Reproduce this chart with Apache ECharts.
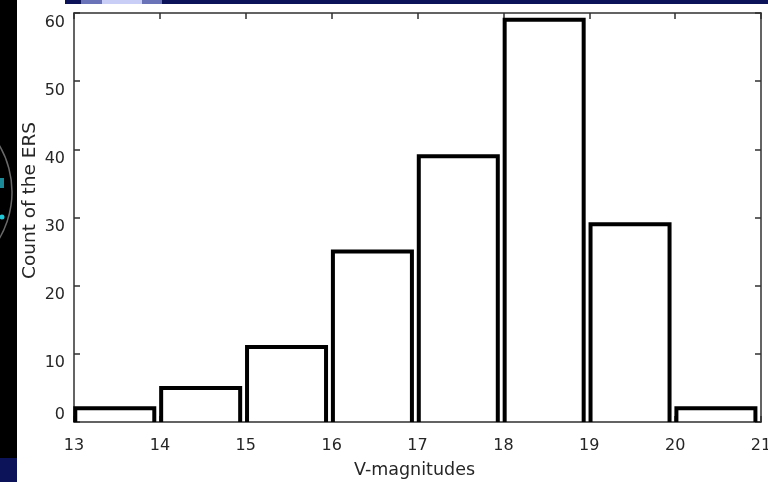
<!DOCTYPE html>
<html>
<head>
<meta charset="utf-8">
<script src="https://cdn.jsdelivr.net/npm/echarts@6/dist/echarts.min.js"></script>
<style>
  html, body { margin: 0; padding: 0; background: #000; }
  #chart { width: 768px; height: 482px; }
</style>
</head>
<body>
<div id="chart"></div>
<script>
// Histogram of V-magnitudes: one bin per magnitude, left edges below
const binStarts = [13, 14, 15, 16, 17, 18, 19, 20];
const counts = [2, 5, 11, 25, 39, 59, 29, 2];
const xTicks = [13, 14, 15, 16, 17, 18, 19, 20, 21];
const yTicks = [0, 10, 20, 30, 40, 50, 60];

const FONT = 'DejaVu Sans';
const TEXT = '#262626';
const AXIS = '#303030';

const chart = echarts.init(document.getElementById('chart'), null, { renderer: 'canvas' });

const barData = binStarts.map((s, i) => [s, counts[i]]);

// Box-style axes: labelled bottom/left, bare top/right, ticks pointing inward
const boxAxis = (extra) => Object.assign({
  axisLine: { show: true, onZero: false, lineStyle: { color: AXIS, width: 1.5 } },
  axisTick: { show: true, inside: true, length: 6, lineStyle: { color: AXIS, width: 1.5 } },
  splitLine: { show: false }
}, extra);

const labelText = { fontFamily: FONT, fontSize: 16, color: TEXT };

chart.setOption({
  backgroundColor: '#ffffff',
  animation: false,
  grid: { left: 74, right: 7, top: 13, bottom: 60, outerBoundsMode: 'none', containLabel: false },
  xAxis: [
    boxAxis({
      type: 'value', min: xTicks[0], max: xTicks[xTicks.length - 1], interval: 1,
      name: 'V-magnitudes', nameLocation: 'middle', nameGap: 39, nameMoveOverlap: false,
      nameTextStyle: { fontFamily: FONT, fontSize: 17.5, color: TEXT, padding: [0, 6, 0, 0] },
      axisLabel: Object.assign({ margin: 16, showMinLabel: true, showMaxLabel: true }, labelText)
    }),
    boxAxis({
      type: 'value', position: 'top', min: xTicks[0], max: xTicks[xTicks.length - 1], interval: 1,
      axisLabel: { show: false }
    })
  ],
  yAxis: [
    boxAxis({
      type: 'value', min: yTicks[0], max: yTicks[yTicks.length - 1], interval: 10,
      name: 'Count of the ERS', nameLocation: 'middle', nameGap: 34, nameMoveOverlap: false,
      // left padding nudges the rotated title a little above the axis centre
      nameTextStyle: { fontFamily: FONT, fontSize: 18.5, color: TEXT, padding: [0, 0, 0, 34] },
      axisLabel: Object.assign({
        margin: 9, showMinLabel: true, showMaxLabel: true,
        // the zero label sits just above its tick, the others just below
        formatter: (v) => v === 0 ? '{lo|0}' : '{hi|' + v + '}',
        rich: {
          lo: Object.assign({ padding: [0, 0, 14, 0] }, labelText),
          hi: Object.assign({ padding: [19, 0, 0, 0] }, labelText)
        }
      }, labelText)
    }),
    boxAxis({
      type: 'value', position: 'right', min: yTicks[0], max: yTicks[yTicks.length - 1], interval: 10,
      axisLabel: { show: false }
    })
  ],
  graphic: [
    // dark slide frame around the figure
    { type: 'rect', shape: { x: 0, y: 0, width: 17, height: 458 }, style: { fill: '#000000' }, z: 100 },
    { type: 'rect', shape: { x: 0, y: 458, width: 17, height: 24 }, style: { fill: '#0c1358' }, z: 100 },
    { type: 'arc', shape: { cx: -80, cy: 192, r: 92, startAngle: -Math.PI / 3, endAngle: Math.PI / 3 },
      style: { stroke: '#6a6a6a', lineWidth: 1.5, fill: null }, z: 101 },
    { type: 'circle', shape: { cx: 2, cy: 217, r: 2.5 }, style: { fill: '#20c8d8' }, z: 101 },
    { type: 'rect', shape: { x: 0, y: 178, width: 4, height: 10 }, style: { fill: '#1a8a98' }, z: 101 },
    { type: 'rect', shape: { x: 0, y: 0, width: 17, height: 4 }, style: { fill: '#000000' }, z: 100 },
    { type: 'rect', shape: { x: 65, y: 0, width: 16, height: 4 }, style: { fill: '#0c1358' }, z: 100 },
    { type: 'rect', shape: { x: 81, y: 0, width: 21, height: 4 }, style: { fill: '#6a72b8' }, z: 100 },
    { type: 'rect', shape: { x: 102, y: 0, width: 40, height: 4 }, style: { fill: '#c9cef6' }, z: 100 },
    { type: 'rect', shape: { x: 142, y: 0, width: 20, height: 4 }, style: { fill: '#6a72b8' }, z: 100 },
    { type: 'rect', shape: { x: 162, y: 0, width: 606, height: 4 }, style: { fill: '#0c1358' }, z: 100 }
  ],
  series: [{
    type: 'custom',
    xAxisIndex: 0,
    yAxisIndex: 0,
    data: barData,
    encode: { x: 0, y: 1 },
    renderItem: function (params, api) {
      const start = api.value(0);
      const v = api.value(1);
      const bl = api.coord([start + 0.015, 0]);
      const tl = api.coord([start + 0.015, v]);
      const tr = api.coord([start + 0.935, v]);
      const br = api.coord([start + 0.935, 0]);
      return {
        type: 'polyline',
        shape: { points: [bl, tl, tr, br] },
        style: { stroke: '#000000', lineWidth: 4, fill: null, lineJoin: 'miter' }
      };
    }
  }]
});
</script>
</body>
</html>
